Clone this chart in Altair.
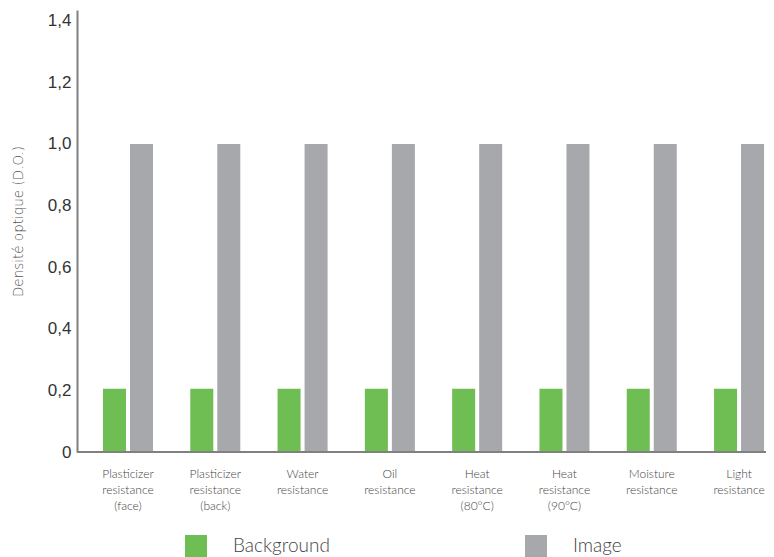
import altair as alt
import pandas as pd

categories = [
    "Plasticizer|resistance|(face)",
    "Plasticizer|resistance|(back)",
    "Water|resistance",
    "Oil|resistance",
    "Heat|resistance|(80°C)",
    "Heat|resistance|(90°C)",
    "Moisture|resistance",
    "Light|resistance",
]
background = [0.205, 0.205, 0.205, 0.205, 0.205, 0.205, 0.205, 0.205]
image = [1.0, 1.0, 1.0, 1.0, 1.0, 1.0, 1.0, 1.0]
series = ["Background", "Image"]
colors = ["#6EBE54", "#A7A8AC"]
y_ticks = [0, 0.2, 0.4, 0.6, 0.8, 1.0, 1.2, 1.4]

rows = []
for c, b, i in zip(categories, background, image):
    rows.append({"cat": c, "serie": series[0], "val": b})
    rows.append({"cat": c, "serie": series[1], "val": i})
df = pd.DataFrame(rows)

W = 689
H = 442
LIGHT = "Lato"

bars = alt.Chart(df).mark_bar().encode(
    x=alt.X(
        "cat:N",
        sort=categories,
        scale=alt.Scale(range=[7.35, 705.7], paddingInner=0, paddingOuter=0),
        axis=alt.Axis(
            title=None,
            domain=False,
            ticks=False,
            labelAngle=0,
            labelExpr="split(datum.label, '|')",
            labelFont=LIGHT,
            labelFontWeight=300,
            labelFontSize=12,
            labelLineHeight=16,
            labelColor="#444444",
            labelPadding=16,
            labelBaseline="top",
        ),
    ),
    xOffset=alt.XOffset(
        "serie:N",
        sort=series,
        scale=alt.Scale(paddingInner=0.148, paddingOuter=0.69),
    ),
    y=alt.Y(
        "val:Q",
        scale=alt.Scale(domain=[0, 1.435], nice=False, zero=True),
        axis=alt.Axis(
            title="Densité optique (D.O.)",
            values=y_ticks,
            labelExpr="datum.value == 0 ? '0' : replace(format(datum.value, '.1f'), '.', ',')",
            labelFont="Liberation Sans",
            labelFontSize=17,
            labelColor="#333333",
            labelFontWeight="normal",
            labelPadding=6,
            ticks=False,
            grid=False,
            domainColor="#808080",
            domainWidth=2,
            titleFont="DejaVu Sans",
            titleFontWeight=200,
            titleFontSize=13.5,
            titleColor="#555555",
            titleX=-59,
            titleY=211,
            titleAlign="center",
            titleBaseline="middle",
            titleAngle=270,
        ),
    ),
    color=alt.Color(
        "serie:N",
        sort=series,
        scale=alt.Scale(domain=series, range=colors),
        legend=alt.Legend(
            title=None,
            orient="none",
            legendX=108,
            legendY=525,
            direction="horizontal",
            symbolType="square",
            symbolSize=484,
            symbolStrokeWidth=0,
            symbolOpacity=1,
            labelFont=LIGHT,
            labelFontWeight=300,
            labelFontSize=19,
            labelColor="#444444",
            labelOffset=26,
            columnPadding=195,
        ),
    ),
)

base_df = pd.DataFrame({"v": [0]})
baseline = alt.Chart(base_df).mark_rule(color="#808080", strokeWidth=2).encode(
    x=alt.value(0),
    x2=alt.value(W),
    y=alt.Y("v:Q"),
)

chart = alt.layer(bars, baseline).properties(
    width=W,
    height=H,
    autosize=alt.AutoSizeParams(type="none"),
    padding={"left": 69, "top": 2, "right": 0, "bottom": 105},
).configure_view(stroke=None)

chart.save("out.html", embed_options={"renderer": "svg", "actions": False})
